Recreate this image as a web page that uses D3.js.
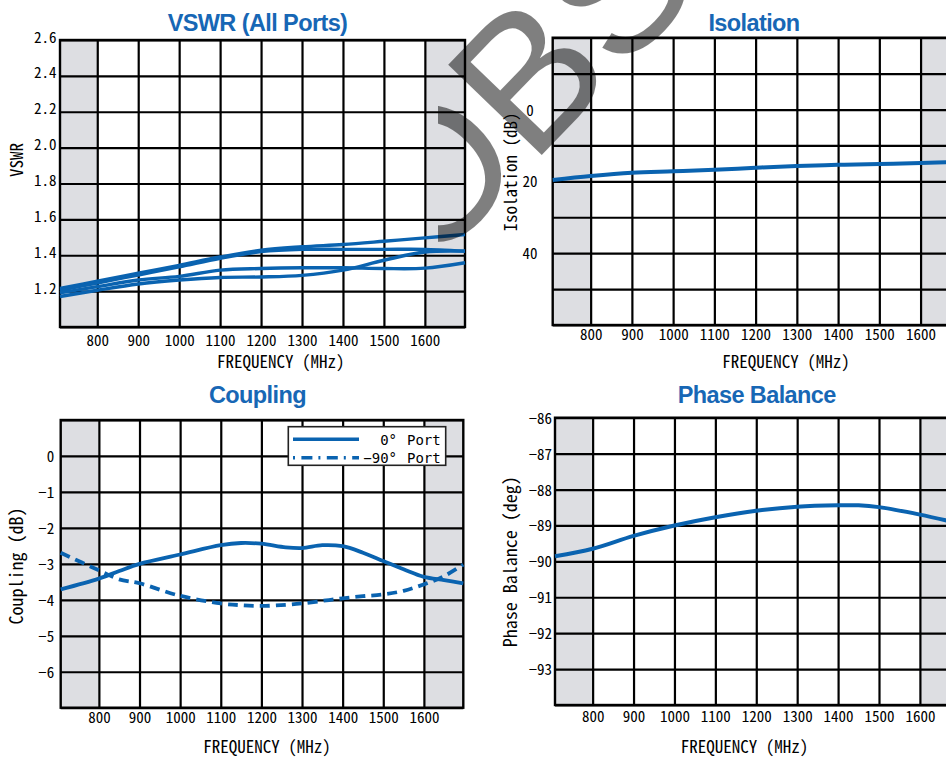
<!DOCTYPE html>
<html><head><meta charset="utf-8">
<script src="https://cdn.jsdelivr.net/npm/d3@7"></script>
<style>
body{margin:0;background:#fff;}
svg{display:block;}
</style></head><body>
<svg id="c" width="946" height="758"></svg>
<script>
// ---------- shared ----------
const freqTicks = [800, 900, 1000, 1100, 1200, 1300, 1400, 1500, 1600];
const freqTickLabels = ["800", "900", "1000", "1100", "1200", "1300", "1400", "1500", "1600"];
const bandEdges = [800, 1600];

// ---------- VSWR (All Ports) ----------
const vswrFreq  = [709, 800, 900, 1000, 1100, 1200, 1300, 1400, 1500, 1600, 1698];
const vswrPort1 = [1.215, 1.255, 1.300, 1.344, 1.390, 1.428, 1.447, 1.460, 1.478, 1.497, 1.516];
const vswrPort2 = [1.205, 1.245, 1.290, 1.335, 1.383, 1.420, 1.433, 1.433, 1.433, 1.433, 1.423];
const vswrPort3 = [1.190, 1.225, 1.262, 1.282, 1.317, 1.326, 1.330, 1.330, 1.326, 1.328, 1.358];
const vswrPort4 = [1.170, 1.205, 1.240, 1.262, 1.276, 1.279, 1.288, 1.317, 1.372, 1.418, 1.423];
const vswrGrid = [1.0, 1.2, 1.4, 1.6, 1.8, 2.0, 2.2, 2.4, 2.6];
const vswrTickValues = [1.2, 1.4, 1.6, 1.8, 2.0, 2.2, 2.4, 2.6];
const vswrTickLabels = ["1.2", "1.4", "1.6", "1.8", "2.0", "2.2", "2.4", "2.6"];

// ---------- Isolation ----------
const isoFreq   = [708, 800, 900, 1000, 1100, 1200, 1300, 1400, 1500, 1600, 1698];
const isoValues = [19.6, 18.5, 17.6, 17.2, 16.8, 16.2, 15.7, 15.4, 15.2, 14.9, 14.6];
const isoGrid = [-20, -10, 0, 10, 20, 30, 40, 50, 60];
const isoTickValues = [0, 20, 40];
const isoTickLabels = ["0", "20", "40"];

// ---------- Coupling ----------
const coupFreq  = [706, 800, 850, 900, 1000, 1100, 1150, 1200, 1260, 1300, 1350, 1400, 1450, 1500, 1550, 1600, 1650, 1697];
const coup0deg  = [-3.71, -3.41, -3.20, -3.00, -2.74, -2.48, -2.42, -2.44, -2.54, -2.56, -2.48, -2.51, -2.69, -2.92, -3.15, -3.36, -3.45, -3.54];
const coup90deg = [-2.69, -3.18, -3.43, -3.54, -3.89, -4.10, -4.15, -4.17, -4.14, -4.10, -4.03, -3.96, -3.90, -3.85, -3.75, -3.57, -3.34, -3.02];
const coupGrid = [1, 0, -1, -2, -3, -4, -5, -6, -7];
const coupTickValues = [0, -1, -2, -3, -4, -5, -6];
const coupTickLabels = ["0", "\u22121", "\u22122", "\u22123", "\u22124", "\u22125", "\u22126"];
const legendNames = ["0\u00b0", "\u221290\u00b0"];
const legendSuffix = "Port";

// ---------- Phase Balance ----------
const phaseFreq   = [708, 800, 900, 1000, 1100, 1200, 1300, 1400, 1450, 1500, 1600, 1698];
const phaseValues = [-89.86, -89.65, -89.29, -89.00, -88.77, -88.59, -88.48, -88.44, -88.44, -88.49, -88.70, -88.95];
const phaseGrid = [-86, -87, -88, -89, -90, -91, -92, -93, -94];
const phaseTickValues = [-86, -87, -88, -89, -90, -91, -92, -93];
const phaseTickLabels = ["\u221286", "\u221287", "\u221288", "\u221289", "\u221290", "\u221291", "\u221292", "\u221293"];

// ---------- styles ----------
const BLUE = "#0a63b0";
const TITLE_BLUE = "#1767b5";
const SHADE = "#dddee2";
const MONO = "'Noto Sans Mono CJK JP','Noto Sans Mono CJK SC','DejaVu Sans Mono',monospace";
const MONO_TIGHT = "'DejaVu Sans Mono','Liberation Mono',monospace";
const SANS = "'Liberation Sans',Arial,sans-serif";

const svg = d3.select("#c");

function panel(cfg) {
  const g = svg.append("g");
  const x = d3.scaleLinear().domain(cfg.xDomain).range([cfg.left, cfg.right]);
  const y = d3.scaleLinear().domain(cfg.yDomain).range([cfg.bottom, cfg.top]);
  const h = cfg.bottom - cfg.top, w = cfg.right - cfg.left;

  // plot background + shaded out-of-band regions
  g.append("rect").attr("x", cfg.left).attr("y", cfg.top).attr("width", w).attr("height", h).attr("fill", "#fff");
  g.append("rect").attr("x", x(cfg.xDomain[0])).attr("y", cfg.top)
    .attr("width", x(bandEdges[0]) - x(cfg.xDomain[0])).attr("height", h).attr("fill", SHADE);
  g.append("rect").attr("x", x(bandEdges[1])).attr("y", cfg.top)
    .attr("width", x(cfg.xDomain[1]) - x(bandEdges[1])).attr("height", h).attr("fill", SHADE);

  // grid via axes
  const gx = g.append("g").attr("transform", `translate(0,${cfg.bottom})`)
    .call(d3.axisBottom(x).tickValues(freqTicks).tickSize(-h).tickFormat(""));
  gx.select(".domain").remove();
  gx.selectAll("line").attr("stroke", "#000").attr("stroke-width", 2.2);

  const gy = g.append("g").attr("transform", `translate(${cfg.left},0)`)
    .call(d3.axisLeft(y).tickValues(cfg.yGrid).tickSize(-w).tickFormat(""));
  gy.select(".domain").remove();
  gy.selectAll("line").attr("stroke", "#000").attr("stroke-width", 2.2);

  // frame
  g.append("rect").attr("x", cfg.left).attr("y", cfg.top).attr("width", w).attr("height", h)
    .attr("fill", "none").attr("stroke", "#000").attr("stroke-width", 2.4);

  // tick labels
  const lx = g.append("g").attr("transform", `translate(0,${cfg.bottom})`)
    .call(d3.axisBottom(x).tickValues(freqTicks).tickSize(0).tickPadding(0)
      .tickFormat((d, i) => freqTickLabels[i]));
  lx.select(".domain").remove();
  lx.selectAll("text").attr("y", cfg.xLabelOffset).attr("dy", 0)
    .attr("font-family", MONO).attr("font-size", 15).attr("fill", "#000");

  const ly = g.append("g").attr("transform", `translate(${cfg.left},0)`)
    .call(d3.axisLeft(y).tickValues(cfg.yTicks).tickSize(0).tickPadding(0)
      .tickFormat((d, i) => cfg.yLabels[i]));
  ly.select(".domain").remove();
  ly.selectAll("text").attr("x", cfg.yLabelX).attr("y", cfg.yLabelDy).attr("dy", 0)
    .attr("text-anchor", cfg.yLabelAnchor)
    .attr("font-family", MONO).attr("font-size", 15).attr("fill", "#000");

  // titles
  g.append("text").attr("x", cfg.titleX).attr("y", cfg.titleY).attr("text-anchor", "middle")
    .attr("font-family", SANS).attr("font-weight", "bold").attr("font-size", 23.5)
    .attr("letter-spacing", cfg.titleSpacing).attr("fill", TITLE_BLUE).text(cfg.title);
  g.append("text").attr("x", cfg.xTitleX).attr("y", cfg.xTitleY).attr("text-anchor", "middle")
    .attr("font-family", MONO).attr("font-size", 17).attr("fill", "#000").text("FREQUENCY (MHz)");
  g.append("text").attr("transform", `translate(${cfg.yTitleX},${cfg.yTitleY}) rotate(-90)`)
    .attr("text-anchor", "middle").attr("font-family", MONO).attr("font-size", cfg.yTitleSize)
    .attr("fill", "#000").text(cfg.yTitle);

  // series
  const line = d3.line().x(d => x(d[0])).y(d => y(d[1])).curve(d3.curveCatmullRom.alpha(0.5));
  cfg.series.forEach(s => {
    g.append("path").datum(s.freq.map((f, i) => [f, s.values[i]]))
      .attr("d", line).attr("fill", "none").attr("stroke", BLUE)
      .attr("stroke-width", s.width).attr("stroke-dasharray", s.dash || null);
  });
  return {g, x, y};
}

panel({
  left: 60, right: 465, top: 40, bottom: 327,
  xDomain: [709, 1698], yDomain: [1.0, 2.6],
  yGrid: vswrGrid, yTicks: vswrTickValues, yLabels: vswrTickLabels,
  yLabelX: -3.5, yLabelDy: 2, yLabelAnchor: "end", xLabelOffset: 18.5,
  title: "VSWR (All Ports)", titleX: 257.5, titleY: 31, titleSpacing: -0.6,
  xTitleX: 280.7, xTitleY: 368, yTitle: "VSWR", yTitleX: 23.3, yTitleY: 160, yTitleSize: 17,
  series: [
    {freq: vswrFreq, values: vswrPort1, width: 3.4},
    {freq: vswrFreq, values: vswrPort2, width: 3.4},
    {freq: vswrFreq, values: vswrPort3, width: 3.4},
    {freq: vswrFreq, values: vswrPort4, width: 3.4}
  ]
});

panel({
  left: 552.7, right: 961, top: 37.7, bottom: 325,
  xDomain: [708, 1698], yDomain: [60, -20],
  yGrid: isoGrid, yTicks: isoTickValues, yLabels: isoTickLabels,
  yLabelX: -22.7, yLabelDy: 5.5, yLabelAnchor: "middle", xLabelOffset: 15,
  title: "Isolation", titleX: 754, titleY: 31, titleSpacing: -0.6,
  xTitleX: 786, xTitleY: 368, yTitle: "Isolation (dB)", yTitleX: 517, yTitleY: 172, yTitleSize: 17,
  series: [{freq: isoFreq, values: isoValues, width: 4}]
});

panel({
  left: 60.7, right: 463.3, top: 420, bottom: 707.7,
  xDomain: [706, 1697], yDomain: [-7, 1],
  yGrid: coupGrid, yTicks: coupTickValues, yLabels: coupTickLabels,
  yLabelX: -6.5, yLabelDy: 5.5, yLabelAnchor: "end", xLabelOffset: 15.3,
  title: "Coupling", titleX: 257.5, titleY: 403, titleSpacing: -0.6,
  xTitleX: 267, xTitleY: 753, yTitle: "Coupling (dB)", yTitleX: 22.7, yTitleY: 566, yTitleSize: 18,
  series: [
    {freq: coupFreq, values: coup0deg, width: 3.8},
    {freq: coupFreq, values: coup90deg, width: 3.8, dash: "10,6"}
  ]
});

panel({
  left: 555, right: 960, top: 417.7, bottom: 705,
  xDomain: [708, 1698], yDomain: [-94, -86],
  yGrid: phaseGrid, yTicks: phaseTickValues, yLabels: phaseTickLabels,
  yLabelX: -3, yLabelDy: 5.5, yLabelAnchor: "end", xLabelOffset: 17,
  title: "Phase Balance", titleX: 756.7, titleY: 403, titleSpacing: -0.6,
  xTitleX: 744.5, xTitleY: 753, yTitle: "Phase Balance (deg)", yTitleX: 517, yTitleY: 561.7, yTitleSize: 18,
  series: [{freq: phaseFreq, values: phaseValues, width: 4}]
});

// ---------- legend (Coupling) ----------
const lg = svg.append("g");
lg.append("rect").attr("x", 288.3).attr("y", 426.7).attr("width", 157.4).attr("height", 38.6)
  .attr("fill", "#fff").attr("stroke", "#222").attr("stroke-width", 1.6);
const legendDash = [null, "2,6.4,11,6"];
const legendRowY = [439.3, 457.7];
legendNames.forEach((name, i) => {
  const yy = legendRowY[i];
  lg.append("line").attr("x1", 293).attr("x2", 359).attr("y1", yy).attr("y2", yy)
    .attr("stroke", BLUE).attr("stroke-width", 3.6).attr("stroke-dasharray", legendDash[i]);
  lg.append("text").attr("x", 397).attr("y", yy + 5.5).attr("text-anchor", "end")
    .attr("font-family", MONO_TIGHT).attr("font-size", 14).attr("fill", "#000").text(name);
  lg.append("text").attr("x", 407).attr("y", yy + 5.5)
    .attr("font-family", MONO_TIGHT).attr("font-size", 14).attr("fill", "#000").text(legendSuffix);
});

// ---------- watermark ----------
const defs = svg.append("defs");
defs.append("clipPath").attr("id", "wmclip").append("rect")
  .attr("x", 438).attr("y", 0).attr("width", 508).attr("height", 758);
svg.append("g").attr("clip-path", "url(#wmclip)")
  .append("text").attr("transform", "translate(429,272) rotate(-46)")
  .attr("font-family", SANS).attr("font-size", 189).attr("fill", "#000").attr("fill-opacity", 0.5)
  .text("OBSOLETE");
</script>
</body></html>
